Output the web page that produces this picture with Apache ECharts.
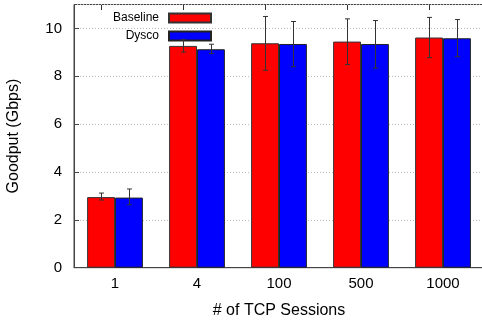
<!DOCTYPE html>
<html>
<head>
<meta charset="utf-8">
<script src="https://cdn.jsdelivr.net/npm/echarts@6/dist/echarts.min.js"></script>
<style>html,body{margin:0;padding:0;background:#fff}#c{width:482px;height:320px}</style>
</head>
<body>
<div id="c"></div>
<script>
var categories = ['1', '4', '100', '500', '1000'];
var baseline = [2.95, 9.27, 9.38, 9.45, 9.62];
var dysco = [2.93, 9.13, 9.35, 9.35, 9.59];
var baselineLow = [2.83, 9.01, 8.25, 8.49, 8.78];
var baselineHigh = [3.12, 9.53, 10.50, 10.40, 10.46];
var dyscoLow = [2.63, 8.95, 8.40, 8.34, 8.82];
var dyscoHigh = [3.29, 9.34, 10.29, 10.33, 10.37];

var FONT = 'Liberation Sans, Arial, sans-serif';
var GAP = 0.32;

function errSeries(name, low, high, side) {
  return {
    type: 'custom',
    name: name + ' err',
    xAxisIndex: 0, yAxisIndex: 0,
    z: 5,
    silent: true,
    data: categories.map(function (c, i) { return [i, low[i], high[i]]; }),
    renderItem: function (params, api) {
      var i = api.value(0);
      var band = api.size([1, 0])[0];
      var off = side * band * (1 - GAP) / 4;
      var lo = api.coord([i, api.value(1)]);
      var hi = api.coord([i, api.value(2)]);
      var x = Math.round(lo[0] + off) + 0.5;
      var cw = 2.5;
      var st = { stroke: '#333', lineWidth: 1 };
      var children = [
        { type: 'line', shape: { x1: x, y1: hi[1], x2: x, y2: lo[1] }, style: st },
        { type: 'line', shape: { x1: x - cw, y1: hi[1], x2: x + cw, y2: hi[1] }, style: st },
        { type: 'line', shape: { x1: x - cw, y1: lo[1], x2: x + cw, y2: lo[1] }, style: st }
      ];
      if (side < 0) {
        // x2 (top border) tick mark at the first series' bar centre
        var y0 = Math.round(params.coordSys.y);
        children.push({ type: 'line', shape: { x1: x, y1: y0, x2: x, y2: y0 + 5 }, style: { stroke: '#333', lineWidth: 1 } });
      }
      return { type: 'group', children: children };
    }
  };
}

var chart = echarts.init(document.getElementById('c'), null, { renderer: 'canvas' });
chart.setOption({
  animation: false,
  textStyle: { fontFamily: FONT },
  legend: {
    orient: 'vertical',
    align: 'right',
    right: 270,
    top: 12,
    padding: 0,
    icon: 'rect',
    itemWidth: 42,
    itemHeight: 9,
    itemGap: 6,
    textStyle: { fontSize: 12, color: '#000', fontFamily: FONT, padding: [0, 5, 0, 0] },
    data: ['Baseline', 'Dysco']
  },
  grid: [
    { left: 74, right: -2, top: 4.5, bottom: 52.3, show: true, borderColor: '#444', borderWidth: 1, outerBoundsMode: 'none', containLabel: false }
  ],
  xAxis: [
    {
      type: 'category', gridIndex: 0, data: categories,
      axisLine: { lineStyle: { color: '#444' } },
      axisTick: { show: false },
      axisLabel: { fontSize: 15, color: '#000', margin: 9, fontFamily: FONT },
      name: '# of TCP Sessions', nameLocation: 'middle', nameGap: 35,
      nameTextStyle: { fontSize: 16, color: '#000', fontFamily: FONT }
    }
  ],
  yAxis: [
    {
      type: 'value', gridIndex: 0, min: 0, max: 11, interval: 2,
      axisLine: { show: true, lineStyle: { color: '#444' } },
      axisTick: { show: true, inside: true, length: 5, lineStyle: { color: '#444' } },
      axisLabel: { fontSize: 15, color: '#000', margin: 12, showMaxLabel: false, fontFamily: FONT },
      splitLine: { show: true, lineStyle: { color: '#bbb', type: [1, 2], width: 1 } },
      name: 'Goodput (Gbps)', nameLocation: 'middle', nameGap: 52,
      nameTextStyle: { fontSize: 16, color: '#000', fontFamily: FONT }
    }
  ],
  series: [
    {
      name: 'Baseline', type: 'bar', data: baseline, barGap: 0, barCategoryGap: (GAP * 100) + '%',
      itemStyle: { color: '#ff0000', borderColor: '#333', borderWidth: 1 }
    },
    {
      name: 'Dysco', type: 'bar', data: dysco, barGap: 0, barCategoryGap: (GAP * 100) + '%',
      itemStyle: { color: '#0000ff', borderColor: '#222', borderWidth: 1 }
    },
    errSeries('Baseline', baselineLow, baselineHigh, -1),
    errSeries('Dysco', dyscoLow, dyscoHigh, 1)
  ]
});
</script>
</body>
</html>
